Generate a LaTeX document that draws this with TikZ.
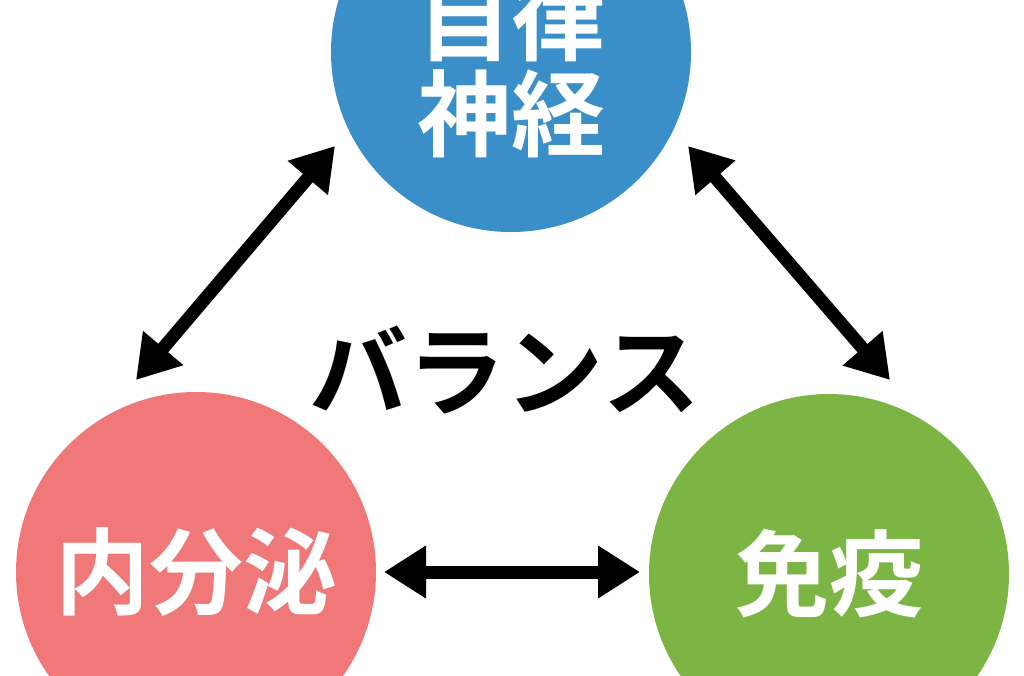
\documentclass[tikz,border=0pt]{standalone}
\usepackage{fontspec}
\newfontfamily\jpfont{Noto Sans CJK JP Bold}
\usetikzlibrary{arrows.meta}
\definecolor{nerveblue}{HTML}{3A8FC8}
\definecolor{hormonepink}{HTML}{F07879}
\definecolor{immunegreen}{HTML}{7DB544}

\begin{document}
\begin{tikzpicture}[x=1pt, y=-1pt, font=\jpfont]
		\tikzstyle{sphere}=[circle, draw=none, minimum size=360pt, inner sep=0pt]
		\tikzstyle{caption}=[text=white, align=center, font=\jpfont\fontsize{94}{96}\selectfont]
		\tikzstyle{link}=[line width=13pt, {Triangle[length=42pt, width=50pt]}-{Triangle[length=42pt, width=50pt]}]
		\useasboundingbox (0,0) rectangle (1024,675);
		
		\node[sphere, fill=nerveblue] (nerve) at (511,52) {};
		\node[sphere, fill=hormonepink] (hormone) at (196,572) {};
		\node[sphere, fill=immunegreen] (immune) at (829,574) {};
		\node[caption] (nervetext) at (511,66) {自律\\神経};
		\node[caption] (hormonetext) at (196,572) {内分泌};
		\node[caption] (immunetext) at (829,574) {免疫};
		\node[font=\jpfont\fontsize{98}{100}\selectfont] (balance) at (505,370) {バランス};
		
		\coordinate (nl) at (335,146);
		\coordinate (hl) at (136,380);
		\coordinate (nr) at (688,146);
		\coordinate (ir) at (890,380);
		\coordinate (hb) at (384,572);
		\coordinate (ib) at (640,572);
		
		\draw[link] (nl) -- (hl);
		\draw[link] (nr) -- (ir);
		\draw[link] (hb) -- (ib);
		\end{tikzpicture}
\end{document}
